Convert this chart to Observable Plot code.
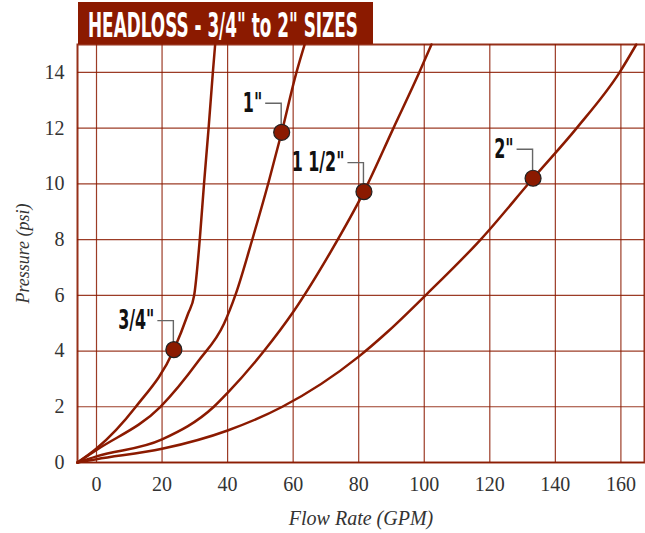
<!DOCTYPE html>
<html>
<head>
<meta charset="utf-8">
<script src="https://cdn.jsdelivr.net/npm/d3@7"></script>
<script src="https://cdn.jsdelivr.net/npm/@observablehq/plot@0.6"></script>
<style>
  body { margin: 0; background: #fff; }
  #wrap { position: relative; width: 645px; height: 533px; }
  #title { position: absolute; left: 78px; top: 2px; width: 295px; height: 42px; background: #8b1a00; overflow: hidden; }
  #title span { position: absolute; left: 10px; top: 7px; color: #fff; font-family: "DejaVu Sans Condensed", "DejaVu Sans"; font-stretch: condensed; font-weight: bold; font-size: 33px; line-height: 33px; white-space: nowrap; transform-origin: 0 0; }
</style>
</head>
<body>
<div id="wrap">
  <div id="chart"></div>
  <div id="title"><span id="titleText"></span></div>
</div>
<script>
const titleText = 'HEADLOSS - 3/4" to 2" SIZES';
const xLabel = "Flow Rate (GPM)";
const yLabel = "Pressure (psi)";

const xDomain = [-5.8, 167.2];
const yDomain = [0, 15];
const xTicks = [0, 20, 40, 60, 80, 100, 120, 140, 160];
const yTicks = [0, 2, 4, 6, 8, 10, 12, 14];

const sizes = ['3/4"', '1"', '1 1/2"', '2"'];

// curves (flow GPM, pressure psi)
const flow34 = [-5.8, 0, 12, 23.6, 27.9, 29.8, 31.5, 32.8, 34.2, 35.5, 36.2];
const psi34  = [0, 0.5, 2, 4.05, 5.33, 6, 8, 10, 12, 14, 15];
const flow1  = [-5.8, 0, 19.5, 31.2, 38.9, 42.5, 47.6, 52.6, 56.5, 61, 63.5];
const psi1   = [0, 0.45, 2, 3.66, 4.98, 6.05, 8.03, 10.1, 11.85, 14, 15];
const flow15 = [-5.8, 0, 20, 35.8, 40, 51.1, 60, 71.4, 81.6, 90.6, 98.5, 102.2];
const psi15  = [0, 0.22, 0.83, 2.0, 2.5, 4, 5.4, 7.55, 9.72, 12, 14, 15];
const flow2  = [-5.8, 0, 20, 40, 56.7, 80, 89, 100.4, 117.2, 133.2, 146.5, 159.6, 164.7];
const psi2   = [0, 0.12, 0.49, 1.15, 2, 3.8, 4.71, 6, 8, 10.2, 12, 14, 15];

// marked points
const dotFlow = [23.6, 56.5, 81.6, 133.2];
const dotPsi  = [4.05, 11.85, 9.72, 10.2];

const flows = [flow34, flow1, flow15, flow2];
const psis = [psi34, psi1, psi15, psi2];
const curveRows = sizes.flatMap((s, i) => flows[i].map((f, j) => ({size: s, flow: f, psi: psis[i][j]})));
const dotRows = sizes.map((s, i) => ({size: s, flow: dotFlow[i], psi: dotPsi[i]}));

const red = "#8b1a00";
const serif = "Liberation Serif, serif";
const bold = '"DejaVu Sans Condensed", "DejaVu Sans", sans-serif';

const leaders = (index, scales) => {
  const g = d3.create("svg:g").attr("fill", "none").attr("stroke", "#666").attr("stroke-width", 1.4);
  for (const d of dotRows) {
    const cx = scales.x(d.flow), cy = scales.y(d.psi);
    g.append("path").attr("d", `M${cx - 16},${cy - 28.5}H${cx}V${cy - 7}`);
  }
  return g.node();
};

const plot = Plot.plot({
  width: 645,
  height: 533,
  marginTop: 44,
  marginBottom: 71,
  marginLeft: 77,
  marginRight: 1,
  style: {background: "#fff", fontFamily: serif},
  x: {domain: xDomain, label: null},
  y: {domain: yDomain, label: null},
  marks: [
    Plot.gridX(xTicks, {stroke: red, strokeOpacity: 0.85, strokeWidth: 1.2}),
    Plot.gridY(yTicks, {stroke: red, strokeOpacity: 0.85, strokeWidth: 1.2}),
    Plot.frame({stroke: red, strokeWidth: 2, strokeOpacity: 0.9}),
    Plot.axisX(xTicks, {tickSize: 0, tickPadding: 14, fontSize: 20, fill: "#333", fontFamily: serif, label: null}),
    Plot.axisY(yTicks, {tickSize: 0, tickPadding: 13, fontSize: 20, fill: "#333", fontFamily: serif, label: null}),
    Plot.line(curveRows, {x: "flow", y: "psi", z: "size", stroke: red, strokeWidth: 2.5, curve: "monotone-x"}),
    leaders,
    Plot.dot(dotRows, {x: "flow", y: "psi", r: 8, fill: red, stroke: "#222", strokeWidth: 1.2}),
    Plot.text(dotRows, {x: "flow", y: "psi", text: "size", dx: -19.5, dy: -28.5, textAnchor: "end", lineAnchor: "middle",
      fontFamily: bold, fontWeight: "bold", fontSize: 26, fill: "#111"}),
    Plot.text([xLabel], {frameAnchor: "bottom", dy: 56, fontSize: 20, fontStyle: "italic", fill: "#333", fontFamily: serif, textAnchor: "middle", lineAnchor: "middle"}),
    Plot.text([yLabel], {frameAnchor: "left", dx: -54, rotate: -90, fontSize: 18, fontStyle: "italic", fill: "#333", fontFamily: serif, textAnchor: "middle", lineAnchor: "middle"})
  ]
});
document.getElementById("chart").appendChild(plot);

d3.select(plot).selectAll("text").filter(function() { return sizes.includes(this.textContent); }).each(function() {
  const w = this.getComputedTextLength();
  this.setAttribute("textLength", (w * 0.68).toFixed(1));
  this.setAttribute("lengthAdjust", "spacingAndGlyphs");
});

const span = document.getElementById("titleText");
span.textContent = titleText;
const tw = span.getBoundingClientRect().width;
span.style.transform = `scaleX(${270 / tw})`;
</script>
</body>
</html>
